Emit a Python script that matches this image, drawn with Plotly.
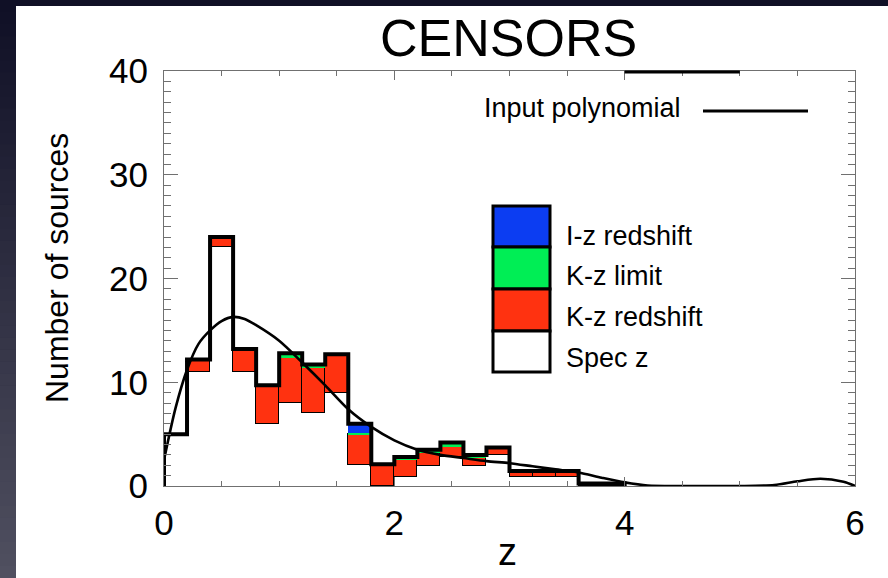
import numpy as np
import plotly.graph_objects as go

# ---------------- data ----------------
bin_edges = [0.0, 0.2, 0.4, 0.6, 0.8, 1.0, 1.2, 1.4, 1.6, 1.8, 2.0,
             2.2, 2.4, 2.6, 2.8, 3.0, 3.2, 3.4, 3.6, 3.8, 4.0]
spec_z      = [5, 11, 23, 11, 6, 8, 7, 9, 2, 0, 0.9, 1.9, 2.8, 1.9, 3.0, 0.9, 0.9, 0.9, 0, 0]
kz_redshift = [0, 1.2, 1, 2.2, 3.7, 4.3, 4.4, 3.7, 3.0, 2.1, 1.6, 1.3, 1.0, 0.8, 0.7, 0.5, 0.4, 0.4, 0.15, 0.15]
kz_limit    = [0, 0, 0, 0, 0, 0.5, 0.3, 0, 0.1, 0, 0.3, 0.3, 0.4, 0.3, 0, 0.05, 0.15, 0.15, 0.1, 0.1]
iz_redshift = [0, 0, 0, 0, 0, 0, 0, 0, 0.9, 0, 0, 0, 0, 0, 0, 0, 0, 0, 0, 0]

poly_z = [0.0, 0.1, 0.2, 0.3, 0.4, 0.5, 0.6, 0.7, 0.8, 1.0, 1.2, 1.4, 1.6, 1.8, 2.0,
          2.2, 2.4, 2.6, 2.8, 3.0, 3.2, 3.4, 3.6, 3.8, 4.0, 4.2, 4.5, 5.0, 5.3, 5.5, 5.7, 5.9, 6.0]
poly_n = [2.5, 7.5, 11.2, 13.7, 15.0, 15.9, 16.3, 16.1, 15.5, 14.0, 11.9, 9.7, 7.4, 5.7, 4.4,
          3.5, 3.0, 2.7, 2.4, 2.2, 1.9, 1.6, 1.3, 0.8, 0.35, 0.05, 0.0, 0.0, 0.1, 0.45, 0.7, 0.4, 0.0]

series_names  = ["I-z redshift", "K-z limit", "K-z redshift", "Spec z"]
series_colors = ["#0c3df2", "#00ee55", "#ff3210", "#ffffff"]
title_text = "CENSORS"
x_title = "z"
y_title = "Number of sources"
poly_label = "Input polynomial"
x_ticks = [0, 2, 4, 6]
y_ticks = [0, 10, 20, 30, 40]

# ---------------- layout helpers ----------------
W, H = 888, 578
L, R, T, B = 164, 855, 71, 486          # plot area in pixels
def px(x):
    return (x - L) / (R - L)
def py(y):
    return (B - y) / (B - T)

FONT = "Liberation Sans, Arial, Helvetica, sans-serif"

edges = np.array(bin_edges)
centers = (edges[:-1] + edges[1:]) / 2
widths = np.diff(edges)
layers = {
    "Spec z": np.array(spec_z, float),
    "K-z redshift": np.array(kz_redshift, float),
    "K-z limit": np.array(kz_limit, float),
    "I-z redshift": np.array(iz_redshift, float),
}
color_of = dict(zip(series_names, series_colors))
total = sum(layers.values())

fig = go.Figure()
for name in ["Spec z", "K-z redshift", "K-z limit", "I-z redshift"]:
    fig.add_trace(go.Bar(
        x=centers, y=layers[name], width=widths, name=name,
        marker=dict(color=color_of[name],
                    line=dict(color="black", width=1 if name == "K-z redshift" else 0)),
        showlegend=False,
    ))

# thick outline of the total histogram
sx, sy = [edges[0]], [0.0]
for i in range(len(total)):
    sx += [edges[i], edges[i + 1]]
    sy += [total[i], total[i]]
sx.append(edges[-1]); sy.append(0.0)
fig.add_trace(go.Scatter(x=sx, y=sy, mode="lines",
                         line=dict(color="black", width=4), showlegend=False))

# input polynomial curve
fig.add_trace(go.Scatter(x=poly_z, y=poly_n, mode="lines",
                         line=dict(color="black", width=2.6, shape="spline", smoothing=0.8),
                         showlegend=False))

shapes = []
# dark slide background with a vertical gradient
n_bands = 48
for k in range(n_bands):
    t = k / (n_bands - 1)
    c0 = np.array([16, 16, 38]); c1 = np.array([80, 80, 96])
    c = (c0 + (c1 - c0) * t).astype(int)
    shapes.append(dict(type="rect", xref="paper", yref="paper",
                       x0=px(0), x1=px(W), y0=py(H * (k + 1) / n_bands + 0.5), y1=py(H * k / n_bands),
                       fillcolor=f"rgb({c[0]},{c[1]},{c[2]})", line=dict(width=0), layer="below"))
# white panel
shapes.append(dict(type="rect", xref="paper", yref="paper",
                   x0=px(16), x1=px(W + 2), y0=py(H + 2), y1=py(6),
                   fillcolor="white", line=dict(width=0), layer="below"))
# thick dash on the top axis
shapes.append(dict(type="line", xref="x", yref="paper", x0=4, x1=5, y0=py(72), y1=py(72),
                   line=dict(color="black", width=3)))
# polynomial legend line
shapes.append(dict(type="line", xref="paper", yref="paper", x0=px(703), x1=px(808),
                   y0=py(111), y1=py(111), line=dict(color="black", width=3)))
# legend boxes
box_rows = [(206, 247), (247, 289), (289, 331), (331, 372)]
label_y = [236, 276, 317, 358]
annotations = []
for (y0, y1), name, ly in zip(box_rows, series_names, label_y):
    shapes.append(dict(type="rect", xref="paper", yref="paper",
                       x0=px(493), x1=px(550), y0=py(y1), y1=py(y0),
                       fillcolor=color_of[name], line=dict(color="black", width=3)))
    annotations.append(dict(text=name, xref="paper", yref="paper", x=px(564), y=py(ly),
                            xanchor="left", yanchor="middle", showarrow=False,
                            font=dict(family=FONT, size=27, color="black")))

annotations.append(dict(text=poly_label, xref="paper", yref="paper", x=px(683), y=py(108),
                        xanchor="right", yanchor="middle", showarrow=False,
                        font=dict(family=FONT, size=27, color="black")))
annotations.append(dict(text=title_text, xref="paper", yref="paper", x=px(508), y=py(38),
                        xanchor="center", yanchor="middle", showarrow=False,
                        font=dict(family=FONT, size=52, color="black")))
annotations.append(dict(text=y_title, xref="paper", yref="paper", x=px(57), y=py(268),
                        xanchor="center", yanchor="middle", showarrow=False, textangle=-90,
                        font=dict(family=FONT, size=32, color="black")))
annotations.append(dict(text=x_title, xref="paper", yref="paper", x=px(507), y=py(552),
                        xanchor="center", yanchor="middle", showarrow=False,
                        font=dict(family=FONT, size=38, color="black")))

axis_common = dict(showline=True, linecolor="#707070", linewidth=1.2, mirror="ticks",
                   ticks="inside", tickcolor="#707070", showgrid=False, zeroline=False,
                   tickfont=dict(family=FONT, size=35, color="black"))

fig.update_layout(
    width=W, height=H,
    margin=dict(l=L, r=W - R, t=T, b=H - B, pad=0),
    paper_bgcolor="#1a1a30", plot_bgcolor="rgba(0,0,0,0)",
    barmode="stack", bargap=0,
    shapes=shapes, annotations=annotations,
    xaxis=dict(range=[0, 6], tickvals=x_ticks, ticklen=9,
               minor=dict(dtick=0.5, ticks="inside", ticklen=5, tickcolor="#707070"),
               ticklabelstandoff=6, **axis_common),
    yaxis=dict(range=[0, 40], tickvals=y_ticks, ticklen=14,
               minor=dict(dtick=1, ticks="inside", ticklen=7, tickcolor="#707070"),
               ticklabelstandoff=8, **axis_common),
    showlegend=False,
)

fig.write_html("out.html")
